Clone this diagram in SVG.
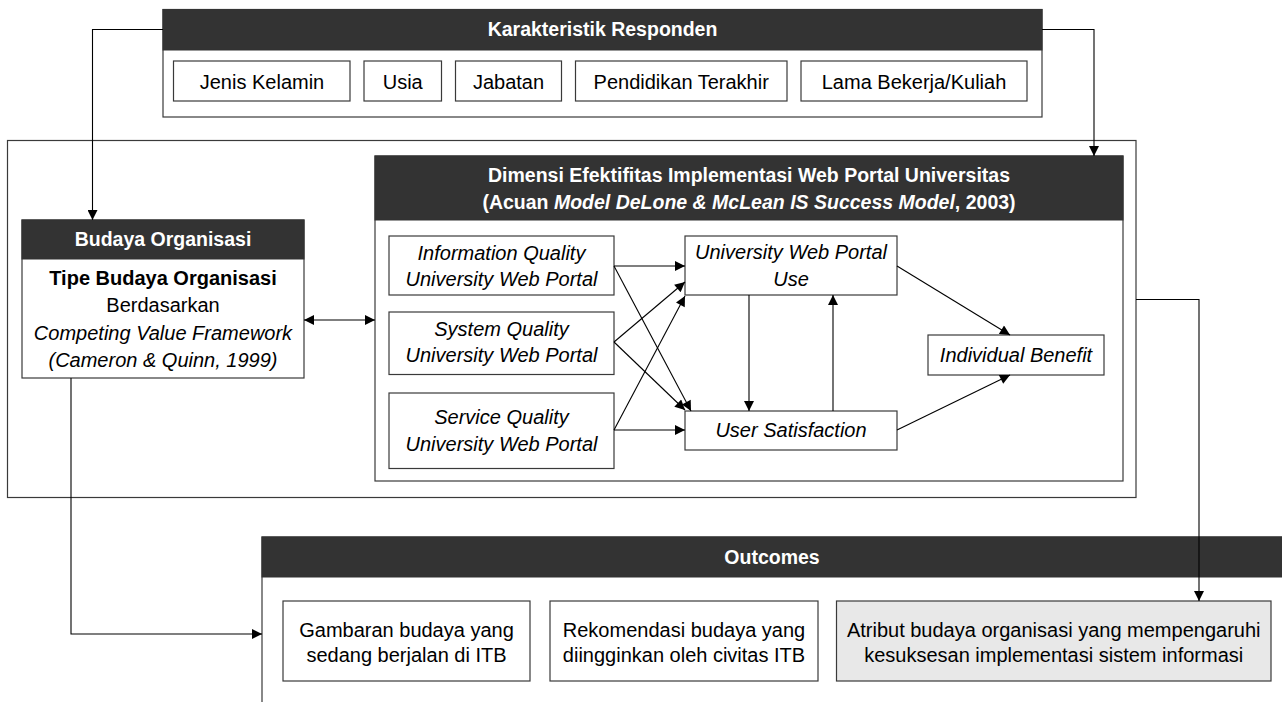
<svg xmlns="http://www.w3.org/2000/svg" width="1282" height="702" viewBox="0 0 1282 702">
<style>
  .box{fill:#fff;stroke:#3a3a3a;stroke-width:1.2}
  .gbox{fill:#e8e8e8;stroke:#3a3a3a;stroke-width:1.2}
  .hdr{fill:#333333;stroke:#333333;stroke-width:1}
  .ht{font-family:"Liberation Sans",Arial,sans-serif;font-size:19.5px;font-weight:bold;fill:#fff;text-anchor:middle}
  .t{font-family:"Liberation Sans",Arial,sans-serif;font-size:20px;fill:#000;text-anchor:middle}
  .i{font-style:italic}
  .b{font-weight:bold}
  .c{fill:none;stroke:#000;stroke-width:1.1}
</style>
<defs>
  <marker id="ah" viewBox="0 0 10 10" refX="10" refY="5" markerWidth="12" markerHeight="10" markerUnits="userSpaceOnUse" orient="auto-start-reverse">
    <path d="M0,0 L10,5 L0,10 z" fill="#000"/>
  </marker>
</defs>

<!-- outer container -->
<rect id="outer" x="7.5" y="140.5" width="1128.5" height="357" fill="none" stroke="#3a3a3a" stroke-width="1.2"/>

<g id="karakteristik">
  <rect class="box" x="163" y="9.5" width="879" height="107.5"/>
  <rect class="hdr" x="163" y="9.5" width="879" height="40.5"/>
  <text class="ht" x="602.5" y="36">Karakteristik Responden</text>
</g>
<g id="jenis-kelamin"><rect class="box" x="173.5" y="61" width="176.5" height="40"/><text class="t" x="262" y="88.5">Jenis Kelamin</text></g>
<g id="usia"><rect class="box" x="364" y="61" width="77.5" height="40"/><text class="t" x="402.7" y="88.5">Usia</text></g>
<g id="jabatan"><rect class="box" x="455.5" y="61" width="106" height="40"/><text class="t" x="508.5" y="88.5">Jabatan</text></g>
<g id="pendidikan"><rect class="box" x="575.5" y="61" width="211.5" height="40"/><text class="t" x="681.2" y="88.5">Pendidikan Terakhir</text></g>
<g id="lama-bekerja"><rect class="box" x="801" y="61" width="226" height="40"/><text class="t" x="914" y="88.5">Lama Bekerja/Kuliah</text></g>

<g id="budaya">
  <rect class="box" x="22" y="220" width="282" height="158"/>
  <rect class="hdr" x="22" y="220" width="282" height="39"/>
  <text class="ht" x="163" y="246">Budaya Organisasi</text>
  <text class="t b" x="163" y="285">Tipe Budaya Organisasi</text>
  <text class="t" x="163" y="312">Berdasarkan</text>
  <text class="t i" x="163" y="339.5">Competing Value Framework</text>
  <text class="t i" x="163" y="366.5">(Cameron &amp; Quinn, 1999)</text>
</g>

<g id="dimensi">
  <rect class="box" x="375" y="156" width="748" height="325"/>
  <rect class="hdr" x="375" y="156" width="748" height="64"/>
  <text class="ht" x="749" y="182">Dimensi Efektifitas Implementasi Web Portal Universitas</text>
  <text class="ht" x="749" y="208.5">(Acuan <tspan class="i">Model DeLone &amp; McLean IS Success Model</tspan>, 2003)</text>
</g>
<g id="info-quality"><rect class="box" x="389" y="236" width="225" height="59"/>
  <text class="t i" x="501.5" y="259.5">Information Quality</text><text class="t i" x="501.5" y="285.5">University Web Portal</text></g>
<g id="system-quality"><rect class="box" x="389" y="312" width="225" height="62.5"/>
  <text class="t i" x="501.5" y="335.5">System Quality</text><text class="t i" x="501.5" y="362">University Web Portal</text></g>
<g id="service-quality"><rect class="box" x="389" y="393" width="225" height="75.5"/>
  <text class="t i" x="501.5" y="423.5">Service Quality</text><text class="t i" x="501.5" y="450.5">University Web Portal</text></g>
<g id="use"><rect class="box" x="685" y="236" width="212" height="59"/>
  <text class="t i" x="791" y="259">University Web Portal</text><text class="t i" x="791" y="285.5">Use</text></g>
<g id="user-satisfaction"><rect class="box" x="685" y="411" width="212" height="39"/>
  <text class="t i" x="791" y="437">User Satisfaction</text></g>
<g id="individual-benefit"><rect class="box" x="928" y="335" width="176" height="40"/>
  <text class="t i" x="1016" y="362">Individual Benefit</text></g>

<g id="outcomes">
  <rect class="box" x="262" y="537" width="1040" height="190"/>
  <rect class="hdr" x="262" y="537" width="1040" height="40"/>
  <text class="ht" x="772" y="563.5">Outcomes</text>
</g>
<g id="gambaran"><rect class="box" x="283" y="601" width="247" height="80"/>
  <text class="t" x="406.5" y="637">Gambaran budaya yang</text><text class="t" x="406.5" y="662">sedang berjalan di ITB</text></g>
<g id="rekomendasi"><rect class="box" x="550" y="601" width="268" height="80"/>
  <text class="t" x="684" y="637">Rekomendasi budaya yang</text><text class="t" x="684" y="662">diingginkan oleh civitas ITB</text></g>
<g id="atribut"><rect class="gbox" x="836.5" y="601" width="434.5" height="80"/>
  <text class="t" x="1053.7" y="637">Atribut budaya organisasi yang mempengaruhi</text><text class="t" x="1053.7" y="662">kesuksesan implementasi sistem informasi</text></g>

<g id="connectors">
  <polyline class="c" points="163,29.5 92.5,29.5 92.5,220" marker-end="url(#ah)"/>
  <polyline class="c" points="1042,29.5 1094,29.5 1094,156" marker-end="url(#ah)"/>
  <line class="c" x1="304" y1="320" x2="375" y2="320" marker-start="url(#ah)" marker-end="url(#ah)"/>
  <polyline class="c" points="71,378 71,634 262,634" marker-end="url(#ah)"/>
  <polyline class="c" points="1136,299.5 1199,299.5 1199,601" marker-end="url(#ah)"/>
  <line class="c" x1="614" y1="266" x2="685" y2="266" marker-end="url(#ah)"/>
  <line class="c" x1="614" y1="266" x2="691" y2="411" marker-end="url(#ah)"/>
  <line class="c" x1="614" y1="342" x2="685" y2="282" marker-end="url(#ah)"/>
  <line class="c" x1="614" y1="342" x2="685" y2="410" marker-end="url(#ah)"/>
  <line class="c" x1="614" y1="430" x2="685" y2="296" marker-end="url(#ah)"/>
  <line class="c" x1="614" y1="430" x2="685" y2="430" marker-end="url(#ah)"/>
  <line class="c" x1="749" y1="295" x2="749" y2="411" marker-end="url(#ah)"/>
  <line class="c" x1="833" y1="411" x2="833" y2="295" marker-end="url(#ah)"/>
  <line class="c" x1="897" y1="266" x2="1010" y2="335" marker-end="url(#ah)"/>
  <line class="c" x1="897" y1="430" x2="1010" y2="375" marker-end="url(#ah)"/>
</g>
</svg>
